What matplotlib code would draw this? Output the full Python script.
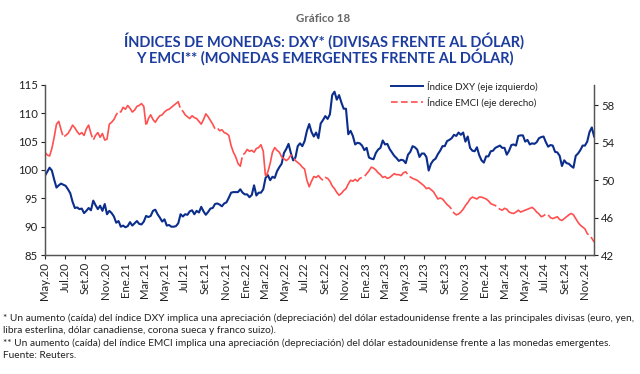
import matplotlib
matplotlib.use('Agg')
import matplotlib.pyplot as plt
from matplotlib.lines import Line2D
import pandas as pd

plt.rcParams['font.family'] = ['Lato', 'DejaVu Sans']

# datos semanales (viernes), mayo 2020 - noviembre 2024
dxy = [
    # 2020
    99.0, 99.7, 100.4, 99.9, 98.3, 96.9, 97.3, 97.6, 97.4, 97.2,
    96.6, 95.9, 94.4, 93.3, 93.4, 93.1, 93.2, 92.4, 92.8, 93.3,
    92.9, 94.6, 93.8, 93.1, 93.7, 92.8, 94.0, 92.2, 92.8, 92.4,
    91.8, 90.7, 91.0, 90.0, 90.2,
    # 2021
    89.9, 90.1, 90.8, 90.2, 90.6, 91.0, 90.5, 90.4, 90.9, 91.9,
    91.7, 91.9, 92.8, 93.0, 92.2, 91.6, 90.9, 91.3, 90.2, 90.3,
    90.0, 90.0, 90.1, 90.6, 92.2, 91.8, 92.2, 92.1, 92.7, 92.9,
    92.2, 92.8, 92.5, 93.5, 92.7, 92.1, 92.6, 93.2, 93.3, 94.0,
    94.1, 93.9, 93.6, 94.1, 94.3, 95.1, 96.0, 96.1, 96.1, 96.1,
    96.6, 96.0, 95.7,
    # 2022
    95.7, 95.2, 95.6, 97.3, 95.5, 96.0, 96.0, 96.6, 98.6, 99.1,
    98.2, 98.8, 98.6, 99.8, 100.5, 101.1, 103.0, 103.7, 104.6, 103.0,
    101.7, 102.2, 104.2, 104.7, 104.2, 105.1, 106.9, 108.1, 106.7, 105.9,
    106.6, 105.6, 108.2, 108.8, 109.5, 109.0, 109.8, 113.2, 113.8, 112.4,
    113.2, 111.9, 110.8, 110.8, 106.3, 106.9, 106.0, 104.5, 104.8, 104.7,
    104.3, 103.5,
    # 2023
    103.9, 102.2, 102.0, 101.9, 103.0, 103.6, 103.9, 105.2, 104.5, 104.6,
    103.7, 103.1, 102.5, 102.1, 101.6, 101.8, 101.7, 101.2, 102.7, 103.2,
    104.2, 104.0, 103.6, 102.3, 102.9, 102.9, 102.3, 99.9, 101.1, 101.7,
    102.0, 102.8, 103.4, 104.2, 104.2, 105.1, 105.3, 105.6, 106.2, 106.0,
    106.6, 106.2, 106.6, 105.0, 105.9, 103.9, 103.4, 103.3, 104.0, 102.6,
    101.7, 101.3,
    # 2024
    102.4, 102.4, 103.3, 103.4, 103.9, 104.1, 104.3, 103.9, 103.9, 102.7,
    103.4, 104.4, 104.5, 104.3, 106.0, 106.1, 106.1, 105.0, 105.3, 104.5,
    104.7, 104.6, 104.9, 105.6, 105.8, 105.9, 104.9, 104.1, 104.4, 104.3,
    103.2, 103.1, 102.5, 100.7, 101.7, 101.2, 101.1, 100.7, 100.4, 102.5,
    102.9, 103.5, 104.3, 104.3, 105.0, 106.7, 107.5, 105.9,
]

emci = [
    # 2020
    53.0, 52.7, 52.6, 53.4, 54.6, 56.0, 56.3, 55.4, 54.6, 54.8,
    55.0, 55.4, 55.9, 55.6, 55.2, 54.9, 55.1, 54.8, 55.5, 55.9,
    55.0, 54.3, 54.8, 55.1, 54.6, 55.0, 54.3, 54.4, 56.0, 56.2,
    56.5, 57.0, 57.4, 57.3, 57.8,
    # 2021
    57.6, 58.0, 57.7, 57.3, 57.5, 57.9, 58.0, 58.2, 57.9, 55.8,
    56.6, 57.0, 56.5, 56.2, 56.6, 56.9, 57.0, 57.3, 57.5, 57.6,
    57.8, 58.0, 58.2, 58.4, 57.6, 57.4, 57.0, 56.8, 56.6, 56.9,
    56.7, 56.6, 56.3, 56.0, 56.5, 57.1, 56.8, 56.4, 56.0, 55.5,
    55.6, 55.3, 55.4, 55.1, 55.0, 54.8, 53.7, 53.0, 52.5, 51.8,
    51.5, 52.7, 52.9,
    # 2022
    53.3, 53.1, 53.2, 53.0, 53.4, 53.5, 53.8, 53.1, 50.3, 50.9,
    51.8, 53.0, 53.5, 53.2, 53.0, 52.5, 52.3, 52.1, 52.3, 52.7,
    52.5, 52.1, 51.9, 51.7, 51.4, 51.2, 50.0, 49.3, 49.9, 50.4,
    50.3, 50.5, 50.2, 50.0, 50.3, 50.2, 49.9, 49.4, 49.1, 48.7,
    48.4, 48.6, 48.9, 49.1, 49.6, 50.0, 49.9, 50.1, 49.9, 50.2,
    50.3, 50.4,
    # 2023
    50.7, 51.0, 51.4, 51.3, 51.1, 50.8, 50.6, 50.3, 50.4, 50.2,
    50.3, 50.5, 50.7, 50.6, 50.6, 50.5, 50.8, 50.9, 50.6, 50.35,
    50.2, 50.1, 50.0, 49.8, 49.6, 49.4, 49.1, 49.2, 49.0, 48.8,
    48.4, 48.0, 48.1, 48.0, 47.7, 47.4, 47.2, 46.9, 46.5, 46.3,
    46.4, 46.6, 46.9, 47.3, 47.6, 48.0, 48.2, 48.1, 48.0, 48.2,
    48.2, 48.1,
    # 2024
    48.0, 47.8, 47.5, 47.4, 47.3, 47.1, 46.9, 46.8, 47.0, 46.9,
    46.6, 46.5, 46.45, 46.6, 46.8, 46.6, 46.7, 46.8, 46.9, 47.0,
    47.1, 46.9, 46.6, 46.4, 46.1, 46.2, 46.4, 46.3, 46.0, 45.9,
    46.0, 46.1, 45.8, 45.7, 45.9, 46.1, 46.3, 46.45, 46.3, 45.9,
    45.5, 45.2, 45.0, 44.8, 44.3, 44.1, 43.8, 43.4,
]

meses = ['Ene', 'Feb', 'Mar', 'Abr', 'May', 'Jun', 'Jul', 'Ago', 'Set', 'Oct', 'Nov', 'Dic']
fechas = pd.date_range('2020-05-01', periods=len(dxy), freq='7D')

azul = '#0b2d8c'
rojo = '#ff4f4f'
gris = '#222222'

fig = plt.figure(figsize=(6.4, 3.74), dpi=100)
ax = fig.add_axes([0.0703, 0.318, 0.858, 0.455])
ax2 = ax.twinx()

ax.plot(fechas, dxy, color=azul, lw=1.5)
ax2.plot(fechas, emci, color=rojo, lw=1.2, linestyle=(0, (34, 2)))

ax.set_ylim(85, 115)
ax.set_yticks(range(85, 116, 5))
ax2.set_ylim(42, 60.2)
ax2.set_yticks(range(42, 59, 4))

ticks = pd.date_range('2020-05-01', '2024-11-01', freq='2MS')
ax.set_xticks(ticks)
ax.set_xticklabels([f'{meses[t.month - 1]}.{t.year % 100:02d}' for t in ticks],
                   rotation=90)
ax.set_xlim(fechas[0], fechas[-1])

for a in (ax, ax2):
    a.spines['top'].set_visible(False)
    for s in ('left', 'right', 'bottom'):
        a.spines[s].set_color('#555555')
        a.spines[s].set_linewidth(0.9)
    a.tick_params(labelsize=8.2, colors=gris, length=3, width=0.8, pad=2)

h = [Line2D([], [], color=azul, lw=1.4),
     Line2D([], [], color=rojo, lw=1.2, linestyle=(0, (4, 2)))]
ax2.legend(h, ['Índice DXY (eje izquierdo)', 'Índice EMCI (eje derecho)'],
           loc='upper left', bbox_to_anchor=(0.615, 1.075), frameon=False,
           fontsize=7.0, handlelength=3.2, handletextpad=0.5, labelspacing=0.5,
           labelcolor=gris)

fig.text(0.505, 1 - 19 / 374, 'Gráfico 18', ha='center', va='center',
         fontsize=8.3, fontweight='bold', color='#666666')
fig.text(0.507, 1 - 41 / 374, 'ÍNDICES DE MONEDAS: DXY* (DIVISAS FRENTE AL DÓLAR)',
         ha='center', va='center', fontsize=10.5, fontweight='bold', color='#1c3c9e')
fig.text(0.507, 1 - 57.5 / 374, 'Y EMCI** (MONEDAS EMERGENTES FRENTE AL DÓLAR)',
         ha='center', va='center', fontsize=10.5, fontweight='bold', color='#1c3c9e')

notas = [
    '* Un aumento (caída) del índice DXY implica una apreciación (depreciación) del dólar '
    'estadounidense frente a las principales divisas (euro, yen,',
    'libra esterlina, dólar canadiense, corona sueca y franco suizo).',
    '** Un aumento (caída) del índice EMCI implica una apreciación (depreciación) del dólar '
    'estadounidense frente a las monedas emergentes.',
    'Fuente: Reuters.',
]
for k, t in enumerate(notas):
    fig.text(3 / 640, 1 - (318.5 + 12.2 * k) / 374, t, ha='left', va='center',
             fontsize=7.3, color=gris)

fig.savefig('out.png', dpi=100)
